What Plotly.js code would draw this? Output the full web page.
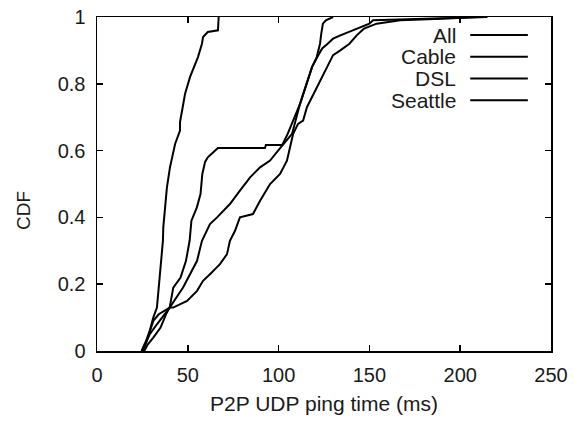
<!DOCTYPE html>
<html>
<head>
<meta charset="utf-8">
<script src="https://cdn.plot.ly/plotly-3.0.1.min.js"></script>
<style>html,body{margin:0;padding:0;background:#fff;}#chart{width:574px;height:423px;}</style>
</head>
<body>
<div id="chart"></div>
<script>
// Series names (legend order)
const seriesNames = ["All", "Cable", "DSL", "Seattle"];

// All
const allX = [25, 29, 33, 36, 40, 47.4, 51.2, 55.1, 57.8, 59.5, 62.2, 66.1, 69.4, 73.2, 78.7, 84.3, 89.8, 95.3, 99.7, 103.5, 107.4, 111.8, 115.6, 118.4, 121, 124, 127, 130, 134, 141, 150, 152, 167, 190, 215];
const allY = [0, 0.05, 0.08, 0.10, 0.13, 0.19, 0.23, 0.27, 0.33, 0.35, 0.38, 0.40, 0.42, 0.44, 0.48, 0.52, 0.55, 0.57, 0.60, 0.626, 0.65, 0.74, 0.80, 0.85, 0.877, 0.906, 0.92, 0.935, 0.945, 0.96, 0.98, 0.99, 0.993, 0.996, 1.0];

// Cable
const cableX = [26, 28, 31, 35, 38, 40, 41.9, 49.6, 55.1, 58.4, 62.2, 67.7, 71.6, 73.2, 76, 78.7, 85.9, 89.8, 95.3, 100.8, 104.6, 106.3, 108, 110.7, 113.5, 115.6, 121, 126.7, 130, 134, 139, 143, 147, 154, 167, 190, 210];
const cableY = [0, 0.02, 0.04, 0.07, 0.11, 0.13, 0.13, 0.15, 0.18, 0.21, 0.23, 0.26, 0.29, 0.33, 0.36, 0.40, 0.41, 0.45, 0.50, 0.53, 0.57, 0.61, 0.65, 0.68, 0.69, 0.73, 0.79, 0.85, 0.886, 0.90, 0.92, 0.945, 0.965, 0.98, 0.99, 0.995, 1.0];

// DSL
const dslX = [25.5, 28, 31, 34, 37, 40, 42, 46, 49, 51, 52, 55, 57, 58, 59.5, 61, 63, 66.6, 92.5, 93, 102, 105, 111.8, 115.6, 118.4, 121, 122.8, 123.5, 124.4, 126, 130];
const dslY = [0, 0.04, 0.09, 0.11, 0.12, 0.13, 0.19, 0.22, 0.27, 0.33, 0.39, 0.43, 0.47, 0.53, 0.566, 0.58, 0.59, 0.608, 0.608, 0.617, 0.617, 0.65, 0.74, 0.80, 0.85, 0.88, 0.92, 0.95, 0.98, 0.99, 1.0];

// Seattle
const seattleX = [24.5, 27, 29, 31, 33, 34.7, 36.3, 36.5, 38.5, 40.2, 43, 45.7, 45.7, 48.5, 51.2, 55.6, 57.8, 58.4, 61, 66.6, 67];
const seattleY = [0, 0.03, 0.06, 0.10, 0.13, 0.23, 0.33, 0.37, 0.49, 0.55, 0.62, 0.66, 0.685, 0.77, 0.82, 0.88, 0.92, 0.94, 0.955, 0.96, 1.0];

// Axis ticks
const xTicks = [0, 50, 100, 150, 200, 250];
const yTicks = [0, 0.2, 0.4, 0.6, 0.8, 1];

const seriesX = [allX, cableX, dslX, seattleX];
const seriesY = [allY, cableY, dslY, seattleY];

const font = "Liberation Sans, Arial, sans-serif";
const textColor = "#1a1a1a";
const traces = seriesNames.map((n, i) => ({
  x: seriesX[i], y: seriesY[i], name: n, type: "scatter", mode: "lines",
  line: {color: "#000", width: 2}, showlegend: false, hoverinfo: "skip"
}));

// Gnuplot-style legend: right-aligned label followed by line sample
const legTop = 0.946, legStep = 0.065;
const annotations = seriesNames.map((n, i) => ({
  xref: "paper", yref: "paper", x: 0.795, y: legTop - i * legStep,
  xanchor: "right", yanchor: "middle", text: n, showarrow: false,
  font: {family: font, size: 21, color: textColor}
}));
// y-axis title (gnuplot places it slightly below centre)
annotations.push({
  xref: "paper", yref: "paper", x: -0.163, y: 0.422,
  xanchor: "center", yanchor: "middle", textangle: -90, text: "CDF",
  showarrow: false, font: {family: font, size: 19, color: textColor}
});
const shapes = seriesNames.map((n, i) => ({
  type: "line", xref: "paper", yref: "paper",
  x0: 0.822, x1: 0.949, y0: legTop - i * legStep, y1: legTop - i * legStep,
  line: {color: "#000", width: 2}
}));

const axisCommon = {
  showgrid: false, zeroline: false, showline: true, mirror: "ticks",
  linecolor: "#000", linewidth: 1.5, ticks: "inside", ticklen: 6,
  tickwidth: 1.5, tickcolor: "#000",
  tickfont: {family: font, size: 20, color: textColor}
};

const layout = {
  width: 574, height: 423,
  margin: {l: 97, r: 23, t: 17, b: 72},
  paper_bgcolor: "#fff", plot_bgcolor: "#fff",
  showlegend: false,
  xaxis: Object.assign({}, axisCommon, {
    range: [0, 250], tickvals: xTicks, ticktext: xTicks.map(String),
    ticklabelstandoff: 5,
    title: {text: "P2P UDP ping time (ms)", font: {family: font, size: 21, color: textColor}, standoff: 12}
  }),
  yaxis: Object.assign({}, axisCommon, {
    range: [0, 1], tickvals: yTicks, ticktext: yTicks.map(String),
    ticklabelstandoff: 6
  }),
  annotations: annotations,
  shapes: shapes
};

Plotly.newPlot("chart", traces, layout, {staticPlot: true, displayModeBar: false});
</script>
</body>
</html>
